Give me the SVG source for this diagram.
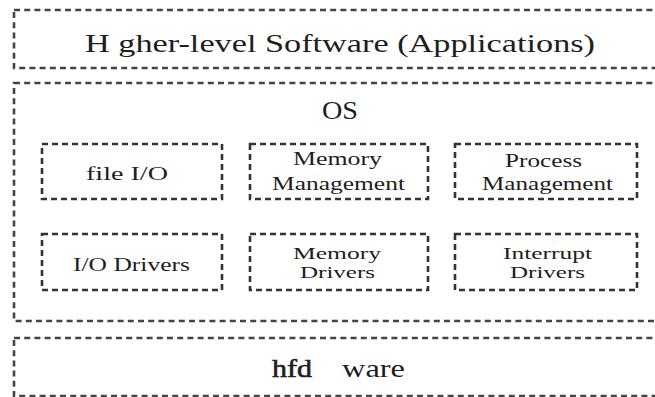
<svg xmlns="http://www.w3.org/2000/svg" width="655" height="397" viewBox="0 0 655 397">
<style>
.box{fill:none;stroke:#444;stroke-width:2.6;stroke-dasharray:6 4.2}
.ib{fill:none;stroke:#333;stroke-width:2.6;stroke-dasharray:6 4}
text{font-family:"Liberation Serif","Times New Roman",serif;fill:#1e1e1e}
.big{font-size:26px}
.sm{font-size:18px}
.sm2{font-size:16px}
</style>
<rect width="655" height="397" fill="#fff"/>
<g id="applications">
<rect class="box" x="14" y="10" width="660" height="58"/>
<text class="big" x="85" y="52" textLength="510" lengthAdjust="spacingAndGlyphs">H gher-level Software (Applications)</text>
</g>
<g id="os">
<rect class="box" x="14" y="83" width="660" height="238"/>
<text class="big" x="322" y="119" textLength="36" lengthAdjust="spacingAndGlyphs">OS</text>
</g>
<g id="file-io">
<rect class="ib" x="42" y="144" width="180" height="55"/>
<text class="sm" x="86" y="180" textLength="82" lengthAdjust="spacingAndGlyphs">file I/O</text>
</g>
<g id="memory-management">
<rect class="ib" x="250" y="144" width="178" height="55"/>
<text class="sm" x="293" y="165" textLength="89" lengthAdjust="spacingAndGlyphs">Memory</text>
<text class="sm" x="272" y="190" textLength="133" lengthAdjust="spacingAndGlyphs">Management</text>
</g>
<g id="process-management">
<rect class="ib" x="455" y="144" width="182" height="55"/>
<text class="sm" x="505" y="167" textLength="77" lengthAdjust="spacingAndGlyphs">Process</text>
<text class="sm" x="482" y="190" textLength="131" lengthAdjust="spacingAndGlyphs">Management</text>
</g>
<g id="io-drivers">
<rect class="ib" x="42" y="234" width="180" height="56"/>
<text class="sm" x="73" y="271" textLength="117" lengthAdjust="spacingAndGlyphs">I/O Drivers</text>
</g>
<g id="memory-drivers">
<rect class="ib" x="250" y="234" width="178" height="56"/>
<text class="sm2" x="293" y="259" textLength="88" lengthAdjust="spacingAndGlyphs">Memory</text>
<text class="sm2" x="300" y="278" textLength="75" lengthAdjust="spacingAndGlyphs">Drivers</text>
</g>
<g id="interrupt-drivers">
<rect class="ib" x="455" y="234" width="182" height="56"/>
<text class="sm2" x="503" y="259" textLength="89" lengthAdjust="spacingAndGlyphs">Interrupt</text>
<text class="sm2" x="510" y="278" textLength="75" lengthAdjust="spacingAndGlyphs">Drivers</text>
</g>
<g id="hardware">
<rect class="box" x="14" y="338" width="660" height="58"/>
<text class="big"><tspan x="272" y="377" stroke="#1e1e1e" stroke-width="0.6" textLength="40" lengthAdjust="spacingAndGlyphs">hfd</tspan><tspan x="342" y="377" textLength="63" lengthAdjust="spacingAndGlyphs">ware</tspan></text>
</g>
<g id="connectors"></g>
</svg>
